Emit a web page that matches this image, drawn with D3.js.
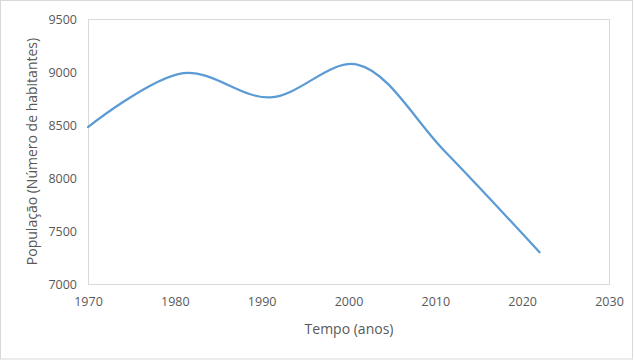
<!DOCTYPE html>
<html><head><meta charset="utf-8">
<script src="https://cdn.jsdelivr.net/npm/d3@7"></script>
<style>body{margin:0;background:#fff}svg{display:block}</style>
</head><body>
<svg id="c" width="634" height="360"></svg>
<script>
const years = [1970, 1981, 1991, 2001, 2011, 2022];
const population = [8480, 8990, 8760, 9070, 8260, 7300];
const xTicks = [1970, 1980, 1990, 2000, 2010, 2020, 2030];
const yTicks = [7000, 7500, 8000, 8500, 9000, 9500];
const xTitle = "Tempo (anos)";
const yTitle = "População (Número de habitantes)";

const W = 634, H = 360;
const m = {left: 88, top: 19, right: 609, bottom: 284};
const svg = d3.select("#c");
const font = "'Open Sans', sans-serif";

svg.append("rect").attr("x", 0.5).attr("y", 0.5).attr("width", W - 2).attr("height", H - 1.5)
  .attr("fill", "#fff").attr("stroke", "#d9d9d9");

const x = d3.scaleLinear().domain([1970, 2030]).range([m.left, m.right]);
const y = d3.scaleLinear().domain([7000, 9500]).range([m.bottom, m.top]);

svg.append("rect").attr("x", m.left + 0.5).attr("y", m.top + 0.5)
  .attr("width", m.right - m.left).attr("height", m.bottom - m.top)
  .attr("fill", "none").attr("stroke", "#d9d9d9");

const xAxis = svg.append("g").attr("transform", `translate(0,${m.bottom})`)
  .call(d3.axisBottom(x).tickValues(xTicks).tickFormat(d3.format("d")).tickSize(0).tickPadding(13));
const yAxis = svg.append("g").attr("transform", `translate(${m.left},0)`)
  .call(d3.axisLeft(y).tickValues(yTicks).tickFormat(d3.format("d")).tickSize(0).tickPadding(11));
[xAxis, yAxis].forEach(a => {
  a.select(".domain").remove();
  a.selectAll("text").attr("fill", "#595959").style("font-family", font).style("font-size", "12.5px");
});

const data = years.map((yr, i) => ({yr, v: population[i]}));
svg.append("path").datum(data)
  .attr("fill", "none").attr("stroke", "#5b9bd5").attr("stroke-width", 2.25)
  .attr("stroke-linecap", "round")
  .attr("d", d3.line().x(d => x(d.yr)).y(d => y(d.v)).curve(d3.curveCatmullRom.alpha(0.5)));

svg.append("text").attr("x", 349).attr("y", 334)
  .attr("text-anchor", "middle").attr("fill", "#595959")
  .style("font-family", font).style("font-size", "14px").text(xTitle);
svg.append("text").attr("transform", `translate(37,${(m.top + m.bottom) / 2}) rotate(-90)`)
  .attr("text-anchor", "middle").attr("fill", "#595959")
  .style("font-family", font).style("font-size", "14px").text(yTitle);
</script>
</body></html>
